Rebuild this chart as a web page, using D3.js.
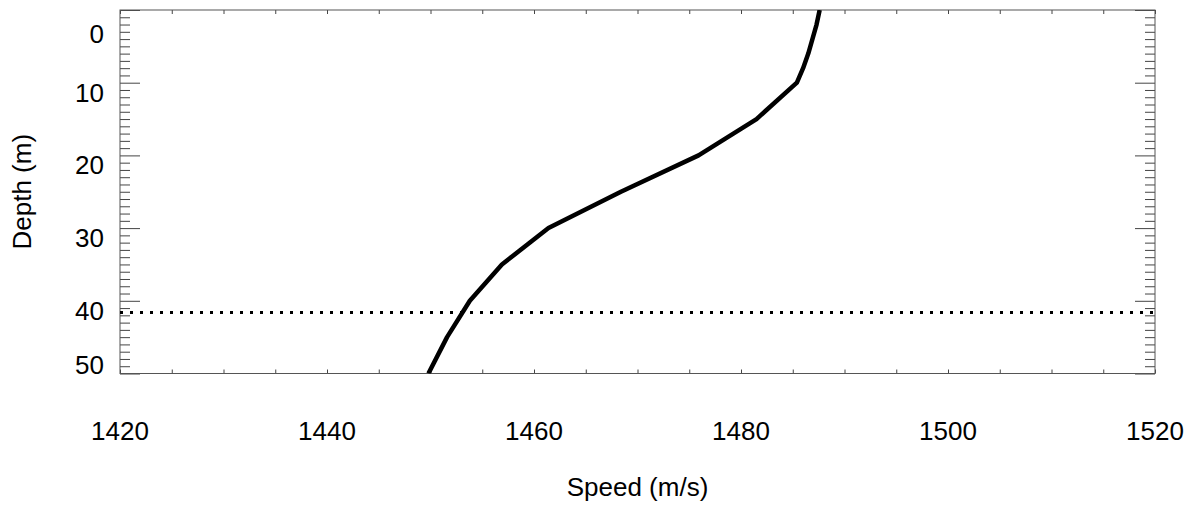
<!DOCTYPE html>
<html>
<head>
<meta charset="utf-8">
<script src="https://cdn.jsdelivr.net/npm/d3@7"></script>
<style>
  body { margin: 0; background: #fff; }
  text { font-family: "Liberation Sans", Arial, sans-serif; fill: #000; }
</style>
</head>
<body>
<div id="chart"></div>
<script>
// sound speed profile
var depths = [0, 2, 4, 6, 8, 10, 15, 20, 25, 30, 35, 40, 45, 50];
var speeds = [1487.6, 1487.3, 1486.9, 1486.5, 1486.0, 1485.4, 1481.5, 1475.9, 1468.4, 1461.4, 1456.9, 1453.8, 1451.6, 1449.8];
var markerDepth = 41.6;
var xTicks = [1420, 1440, 1460, 1480, 1500, 1520];
var yTicks = [0, 10, 20, 30, 40, 50];

var W = 1197, H = 510;
var pLeft = 120, pRight = 1155, pTop = 10, pBottom = 373.5;

var x = d3.scaleLinear().domain([1420, 1520]).range([pLeft, pRight]);
var y = d3.scaleLinear().domain([0, 50]).range([pTop, pBottom]);

var svg = d3.select("#chart").append("svg")
    .attr("width", W)
    .attr("height", H);

svg.append("defs").append("clipPath").attr("id", "clip")
    .append("rect")
    .attr("x", pLeft).attr("y", pTop)
    .attr("width", pRight - pLeft).attr("height", pBottom - pTop);

// minor ticks
var xMinor = d3.range(1420, 1521, 5);
var yMinor = d3.range(0, 51, 1);
var tickCol = "#444";

// bottom / top axis ticks
svg.append("g").attr("transform", "translate(0," + pBottom + ")")
    .call(d3.axisBottom(x).tickValues(xMinor).tickSize(-4).tickFormat(""))
    .call(g => g.select(".domain").remove())
    .selectAll("line").attr("stroke", tickCol);
svg.append("g").attr("transform", "translate(0," + pTop + ")")
    .call(d3.axisTop(x).tickValues(xMinor).tickSize(-4).tickFormat(""))
    .call(g => g.select(".domain").remove())
    .selectAll("line").attr("stroke", tickCol);

// left / right axis ticks
[[pLeft, d3.axisLeft], [pRight, d3.axisRight]].forEach(function (a) {
    var gMin = svg.append("g").attr("transform", "translate(" + a[0] + ",0)")
        .call(a[1](y).tickValues(yMinor.filter(d => d % 10 !== 0)).tickSize(-10).tickFormat(""));
    gMin.select(".domain").remove();
    gMin.selectAll("line").attr("stroke", tickCol);
    var gMaj = svg.append("g").attr("transform", "translate(" + a[0] + ",0)")
        .call(a[1](y).tickValues(yTicks).tickSize(-20).tickFormat(""));
    gMaj.select(".domain").remove();
    gMaj.selectAll("line").attr("stroke", tickCol);
});

// frame
svg.append("rect")
    .attr("x", pLeft).attr("y", pTop)
    .attr("width", pRight - pLeft).attr("height", pBottom - pTop)
    .attr("fill", "none")
    .attr("stroke", "#555")
    .attr("stroke-width", 1);

// x tick labels
svg.append("g").selectAll("text")
    .data(xTicks)
    .join("text")
    .attr("x", d => x(d))
    .attr("y", 440)
    .attr("text-anchor", "middle")
    .style("font-size", "26px")
    .text(d => d);

// y tick labels: top aligned with tick, kept inside the axis span
svg.append("g").selectAll("text")
    .data(yTicks)
    .join("text")
    .attr("x", 104)
    .attr("y", d => Math.min(Math.max(y(d), 24), pBottom - 19) + 19)
    .attr("text-anchor", "end")
    .style("font-size", "26px")
    .text(d => d);

svg.append("text")
    .attr("x", (pLeft + pRight) / 2)
    .attr("y", 496)
    .attr("text-anchor", "middle")
    .style("font-size", "26px")
    .text("Speed (m/s)");

svg.append("text")
    .attr("transform", "translate(30.5," + ((pTop + pBottom) / 2) + ") rotate(-90)")
    .attr("text-anchor", "middle")
    .style("font-size", "26px")
    .text("Depth (m)");

var plot = svg.append("g").attr("clip-path", "url(#clip)");

plot.append("line")
    .attr("x1", pLeft).attr("x2", pRight)
    .attr("y1", y(markerDepth)).attr("y2", y(markerDepth))
    .attr("stroke", "#000")
    .attr("stroke-width", 3)
    .attr("stroke-dasharray", "3,7");

var line = d3.line()
    .x((d, i) => x(speeds[i]))
    .y(d => y(d));

plot.append("path")
    .datum(depths)
    .attr("d", line)
    .attr("fill", "none")
    .attr("stroke", "#000")
    .attr("stroke-width", 4.5)
    .attr("stroke-linejoin", "round");
</script>
</body>
</html>
